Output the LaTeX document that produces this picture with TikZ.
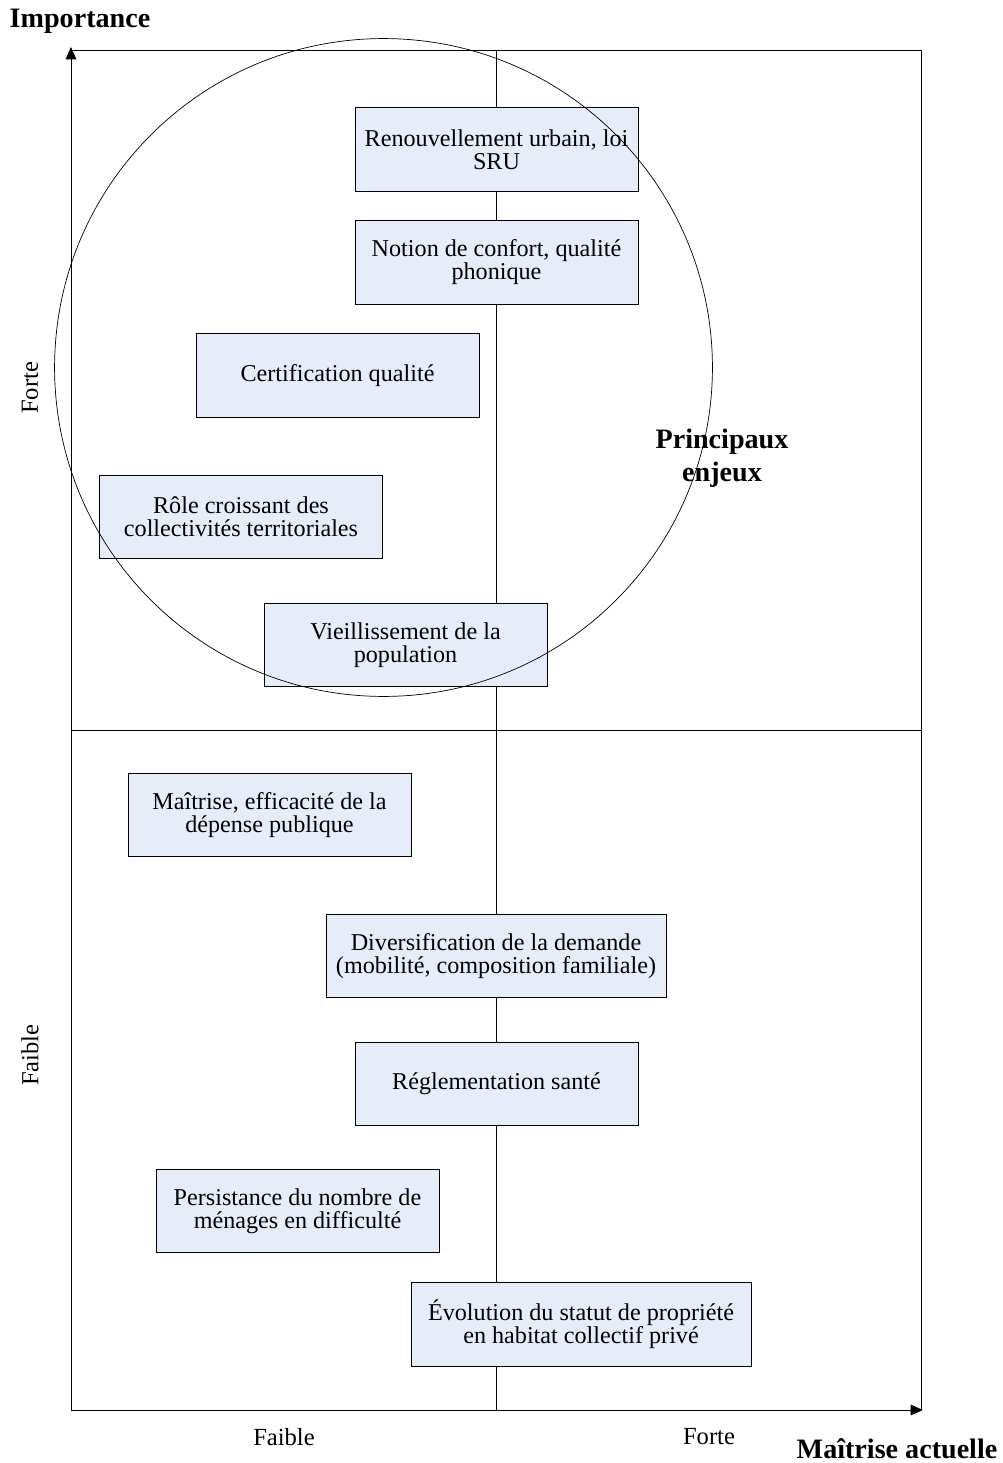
\documentclass[tikz,border=0pt]{standalone}
\usepackage{fontspec}
\setmainfont{Liberation Serif}
\usepackage{tikz}
\usetikzlibrary{arrows.meta,positioning}
\definecolor{boxblue}{RGB}{231,237,248}

\tikzset{
  enjeu/.style={draw, fill=boxblue, align=center, minimum width=5.66cm, minimum height=1.67cm,
    inner sep=2pt, font=\fontsize{13.75}{13.1}\selectfont},
  widebox/.style={enjeu, minimum width=6.8cm},
  axislabel/.style={font=\fontsize{14}{16}\selectfont},
  titlelabel/.style={font=\bfseries\fontsize{16}{18}\selectfont}
}

\begin{document}
\begin{tikzpicture}[x=0.02cm, y=-0.02cm]
\useasboundingbox (0,0) rectangle (1003,1463);
% cadre et axes
\coordinate (o) at (71,1410);
\coordinate (ytop) at (71,47);
\coordinate (xend) at (923,1410);
\coordinate (tr) at (921,50);
\coordinate (br) at (921,1410);
\draw (71,50) -- (tr) -- (br);
\draw (71,730) -- (921,730);
\draw (496,50) -- (496,1410);
\draw[-{Triangle[length=7pt,width=6pt]}] (o) -- (ytop);
\draw[-{Triangle[length=7pt,width=6pt]}] (o) -- (xend);
% enjeux
\node[enjeu] (sru) at (496.5,149.5) {Renouvellement urbain, loi\\SRU};
\node[enjeu] (confort) at (496.5,262.5) {Notion de confort, qualité\\phonique};
\node[enjeu] (certif) at (337.5,375.5) {Certification qualité};
\node[enjeu] (collect) at (241,517) {Rôle croissant des\\collectivités territoriales};
\node[enjeu] (vieil) at (405.5,645) {Vieillissement de la\\population};
\node[enjeu] (depense) at (269.5,815) {Maîtrise, efficacité de la\\dépense publique};
\node[widebox] (demande) at (496,956) {Diversification de la demande\\(mobilité, composition familiale)};
\node[enjeu] (sante) at (496.5,1084) {Réglementation santé};
\node[enjeu] (menages) at (297.5,1211) {Persistance du nombre de\\ménages en difficulté};
\node[widebox] (statut) at (581,1324.5) {Évolution du statut de propriété\\en habitat collectif privé};
% zone des principaux enjeux
\draw (383.5,367.5) circle (6.58cm);
% libelles
\node[titlelabel] (imp) at (80,21) {Importance};
\node[titlelabel] (maitrise) at (897,1449) {Maîtrise actuelle};
\node[titlelabel, align=center, font=\bfseries\fontsize{16}{18.8}\selectfont] (princ) at (722,458) {Principaux\\enjeux};
\node[axislabel, rotate=90] (yforte) at (30,388) {Forte};
\node[axislabel, rotate=90] (yfaible) at (30,1055) {Faible};
\node[axislabel] (xfaible) at (284,1437) {Faible};
\node[axislabel] (xforte) at (709,1437) {Forte};
\end{tikzpicture}
\end{document}
